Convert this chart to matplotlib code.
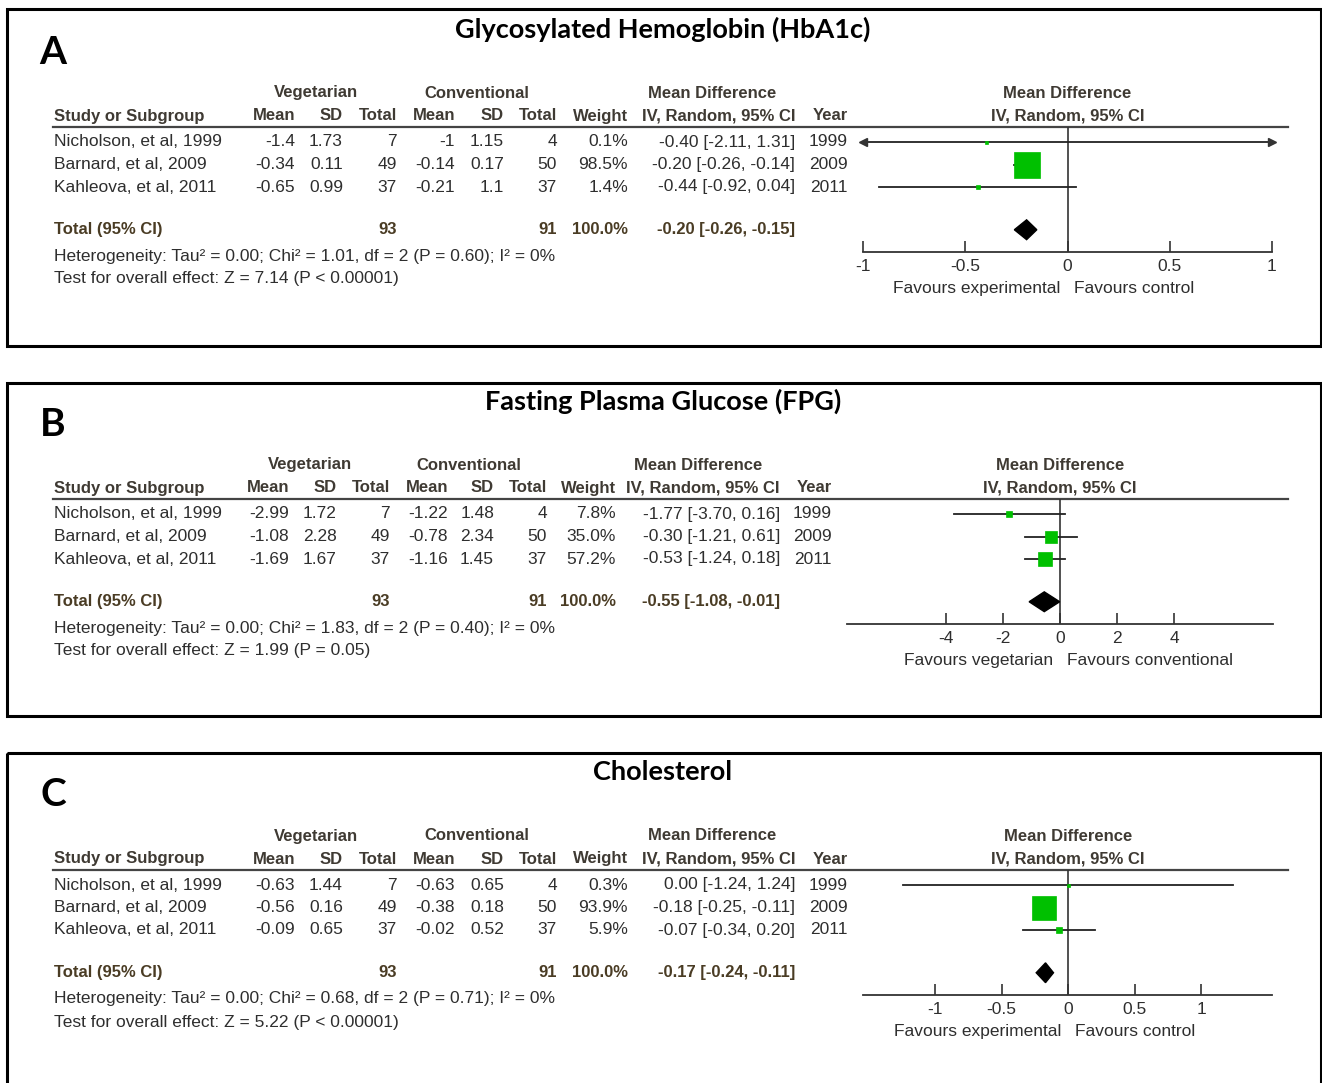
import numpy as np
import matplotlib
matplotlib.use("Agg")
import matplotlib.pyplot as plt
from matplotlib.patches import Rectangle

plt.rcParams['font.family'] = ['Liberation Sans', 'DejaVu Sans']

W, H = 1322, 1083

# ---- data ----
studies = ['Nicholson, et al, 1999', 'Barnard, et al, 2009', 'Kahleova, et al, 2011']
years = [1999, 2009, 2011]
veg_n = [7, 49, 37]
con_n = [4, 50, 37]
veg_total = 93
con_total = 91
total_weight = 100.0

titles = ['Glycosylated Hemoglobin (HbA1c)', 'Fasting Plasma Glucose (FPG)', 'Cholesterol']
letters = ['A', 'B', 'C']

# HbA1c
a_veg_mean = [-1.4, -0.34, -0.65]
a_veg_sd = [1.73, 0.11, 0.99]
a_con_mean = [-1, -0.14, -0.21]
a_con_sd = [1.15, 0.17, 1.1]
a_weight = [0.1, 98.5, 1.4]
a_md = [-0.40, -0.20, -0.44]
a_lo = [-2.11, -0.26, -0.92]
a_hi = [1.31, -0.14, 0.04]
a_total = [-0.20, -0.26, -0.15]
a_het = 'Heterogeneity: Tau\u00b2 = 0.00; Chi\u00b2 = 1.01, df = 2 (P = 0.60); I\u00b2 = 0%'
a_test = 'Test for overall effect: Z = 7.14 (P < 0.00001)'

# FPG
b_veg_mean = [-2.99, -1.08, -1.69]
b_veg_sd = [1.72, 2.28, 1.67]
b_con_mean = [-1.22, -0.78, -1.16]
b_con_sd = [1.48, 2.34, 1.45]
b_weight = [7.8, 35.0, 57.2]
b_md = [-1.77, -0.30, -0.53]
b_lo = [-3.70, -1.21, -1.24]
b_hi = [0.16, 0.61, 0.18]
b_total = [-0.55, -1.08, -0.01]
b_het = 'Heterogeneity: Tau\u00b2 = 0.00; Chi\u00b2 = 1.83, df = 2 (P = 0.40); I\u00b2 = 0%'
b_test = 'Test for overall effect: Z = 1.99 (P = 0.05)'

# Cholesterol
c_veg_mean = [-0.63, -0.56, -0.09]
c_veg_sd = [1.44, 0.16, 0.65]
c_con_mean = [-0.63, -0.38, -0.02]
c_con_sd = [0.65, 0.18, 0.52]
c_weight = [0.3, 93.9, 5.9]
c_md = [0.00, -0.18, -0.07]
c_lo = [-1.24, -0.25, -0.34]
c_hi = [1.24, -0.11, 0.20]
c_total = [-0.17, -0.24, -0.11]
c_het = 'Heterogeneity: Tau\u00b2 = 0.00; Chi\u00b2 = 0.68, df = 2 (P = 0.71); I\u00b2 = 0%'
c_test = 'Test for overall effect: Z = 5.22 (P < 0.00001)'

axis_ticks = [[-1, -0.5, 0, 0.5, 1], [-4, -2, 0, 2, 4], [-1, -0.5, 0, 0.5, 1]]
tick_labels = [['-1', '-0.5', '0', '0.5', '1'], ['-4', '-2', '0', '2', '4'],
               ['-1', '-0.5', '0', '0.5', '1']]
favours = [('Favours experimental', 'Favours control'),
           ('Favours vegetarian', 'Favours conventional'),
           ('Favours experimental', 'Favours control')]

panels = [
    (a_veg_mean, a_veg_sd, a_con_mean, a_con_sd, a_weight, a_md, a_lo, a_hi, a_total, a_het, a_test),
    (b_veg_mean, b_veg_sd, b_con_mean, b_con_sd, b_weight, b_md, b_lo, b_hi, b_total, b_het, b_test),
    (c_veg_mean, c_veg_sd, c_con_mean, c_con_sd, c_weight, c_md, c_lo, c_hi, c_total, c_het, c_test),
]

# ---- layout (pixels) ----
dys = [0, 372, 743]
box_y = [(9, 346), (383, 716), (753, 1095)]
cols = [
    [295, 343, 397, 455, 504, 557, 628, 795, 848],
    [289, 337, 390, 448, 494, 547, 616, 780, 832],
    [295, 343, 397, 455, 504, 557, 628, 795, 848],
]
group_x = [(316, 477, 712), (310, 469, 698), (316, 477, 712)]
forest_x = [(863, 1272), (847, 1273), (863, 1272)]
forest_lim = [(-1, 1), (-7.45, 7.45), (-1.54, 1.53)]
box_scale = [2.6, 1.9, 2.5]
row0, row_step = 142, 22.5
total_row = 3.9

txt = '#2e2e2e'
hdr = '#3f3a33'
tot = '#4a3c24'
green = '#00c000'
FS = 12.5    # regular table text
FSB = 12     # bold headings


def fmt_ci(m, l, h):
    return f'{m:.2f} [{l:.2f}, {h:.2f}]'


fig = plt.figure(figsize=(W / 100, H / 100), dpi=100)
bg = fig.add_axes([0, 0, 1, 1])
bg.set_xlim(0, W)
bg.set_ylim(H, 0)
bg.axis('off')

for p, (vm, vs, cm, cs, wt, md, lo, hi, total, het, test) in enumerate(panels):
    dy = dys[p]
    c = cols[p]
    gx = group_x[p]

    # frame, title, panel letter
    y0, y1 = box_y[p]
    bg.add_patch(Rectangle((7, y0), 1314, y1 - y0, fill=False, lw=2.2, ec='black'))
    bg.text(663, 29 + dy, titles[p], ha='center', va='center', fontsize=19.5,
            fontweight='bold', family=['Lato', 'DejaVu Sans'], color='black')
    bg.text(53, 52 + dy, letters[p], ha='center', va='center', fontsize=28,
            fontweight='bold', family=['Lato', 'DejaVu Sans'], color='black')

    # header rows
    y_h1, y_h2 = 93 + dy, 116 + dy
    for x, s in zip(gx, ['Vegetarian', 'Conventional', 'Mean Difference']):
        bg.text(x, y_h1, s, ha='center', va='center', fontsize=FSB, fontweight='bold', color=hdr)
    bg.text(54, y_h2, 'Study or Subgroup', ha='left', va='center', fontsize=FSB,
            fontweight='bold', color=hdr)
    for x, s in zip(c, ['Mean', 'SD', 'Total', 'Mean', 'SD', 'Total', 'Weight',
                        'IV, Random, 95% CI', 'Year']):
        bg.text(x, y_h2, s, ha='right', va='center', fontsize=FSB, fontweight='bold', color=hdr)
    bg.plot([53, 1288], [127 + dy, 127 + dy], color='#444444', lw=1.6)

    # study rows
    for i in range(len(studies)):
        y = row0 + i * row_step + dy
        vals = [f'{vm[i]:g}', f'{vs[i]:g}', str(veg_n[i]), f'{cm[i]:g}', f'{cs[i]:g}',
                str(con_n[i]), f'{wt[i]:.1f}%', fmt_ci(md[i], lo[i], hi[i]), str(years[i])]
        bg.text(54, y, studies[i], ha='left', va='center', fontsize=FS, color=txt)
        for x, s in zip(c, vals):
            bg.text(x, y, s, ha='right', va='center', fontsize=FS, color=txt)

    # total row
    yt = row0 + total_row * row_step + dy
    bg.text(54, yt, 'Total (95% CI)', ha='left', va='center', fontsize=FSB,
            fontweight='bold', color=tot)
    for x, s in zip([c[2], c[5], c[6], c[7]],
                    [str(veg_total), str(con_total), f'{total_weight:.1f}%', fmt_ci(*total)]):
        bg.text(x, yt, s, ha='right', va='center', fontsize=FSB, fontweight='bold', color=tot)
    bg.text(54, 256 + dy, het, ha='left', va='center', fontsize=FS, color=txt)
    bg.text(54, 279 + dy, test, ha='left', va='center', fontsize=FS, color=txt)

    # forest plot
    fx0, fx1 = forest_x[p]
    y_rule, y_axis = 127 + dy, 252 + dy
    ax = fig.add_axes([fx0 / W, 1 - y_axis / H, (fx1 - fx0) / W, (y_axis - y_rule) / H])
    ax.patch.set_alpha(0)
    xmin, xmax = forest_lim[p]
    ax.set_xlim(xmin, xmax)
    ax.set_ylim((y_axis - dy - row0) / row_step, (y_rule - dy - row0) / row_step)
    for s in ['top', 'left', 'right']:
        ax.spines[s].set_visible(False)
    ax.spines['bottom'].set_color('#333333')
    ax.spines['bottom'].set_linewidth(1.3)
    ax.set_yticks([])
    ax.set_xticks(axis_ticks[p])
    ax.set_xticklabels(tick_labels[p])
    ax.tick_params(axis='x', direction='in', length=8, width=1.2, color='#333333',
                   labelsize=FS, labelcolor=txt, pad=5)
    ax.axvline(0, color='#333333', lw=1.2, zorder=1)

    for i in range(len(studies)):
        l = max(lo[i], xmin)
        h = min(hi[i], xmax)
        ax.plot([l, h], [i, i], color='#222222', lw=1.3, zorder=2)
        if lo[i] < xmin:
            ax.plot([l], [i], marker='<', color='#333333', ms=6, zorder=3, clip_on=False)
        if hi[i] > xmax:
            ax.plot([h], [i], marker='>', color='#333333', ms=6, zorder=3, clip_on=False)
        side = max(3.0, box_scale[p] * np.sqrt(wt[i]))
        ax.plot([md[i]], [i], marker='s', ms=side * 0.72, mfc=green, mec=green,
                mew=0.5, zorder=4)

    m, l, h = total
    ax.fill([l, m, h, m], [total_row, total_row - 0.44, total_row, total_row + 0.44],
            color='black', zorder=4)

    # column headings and direction labels
    ax.annotate('Mean Difference', xy=(0, 1), xycoords=('data', 'axes fraction'),
                xytext=(0, 24), textcoords='offset points', ha='center', va='center',
                fontsize=FSB, fontweight='bold', color=hdr, annotation_clip=False)
    ax.annotate('IV, Random, 95% CI', xy=(0, 1), xycoords=('data', 'axes fraction'),
                xytext=(0, 8), textcoords='offset points', ha='center', va='center',
                fontsize=FSB, fontweight='bold', color=hdr, annotation_clip=False)
    ax.annotate(favours[p][0], xy=(0, 0), xycoords=('data', 'axes fraction'),
                xytext=(-5, -26), textcoords='offset points', ha='right', va='center',
                fontsize=FS, color=txt, annotation_clip=False)
    ax.annotate(favours[p][1], xy=(0, 0), xycoords=('data', 'axes fraction'),
                xytext=(5, -26), textcoords='offset points', ha='left', va='center',
                fontsize=FS, color=txt, annotation_clip=False)

fig.savefig('out.png', dpi=100)
